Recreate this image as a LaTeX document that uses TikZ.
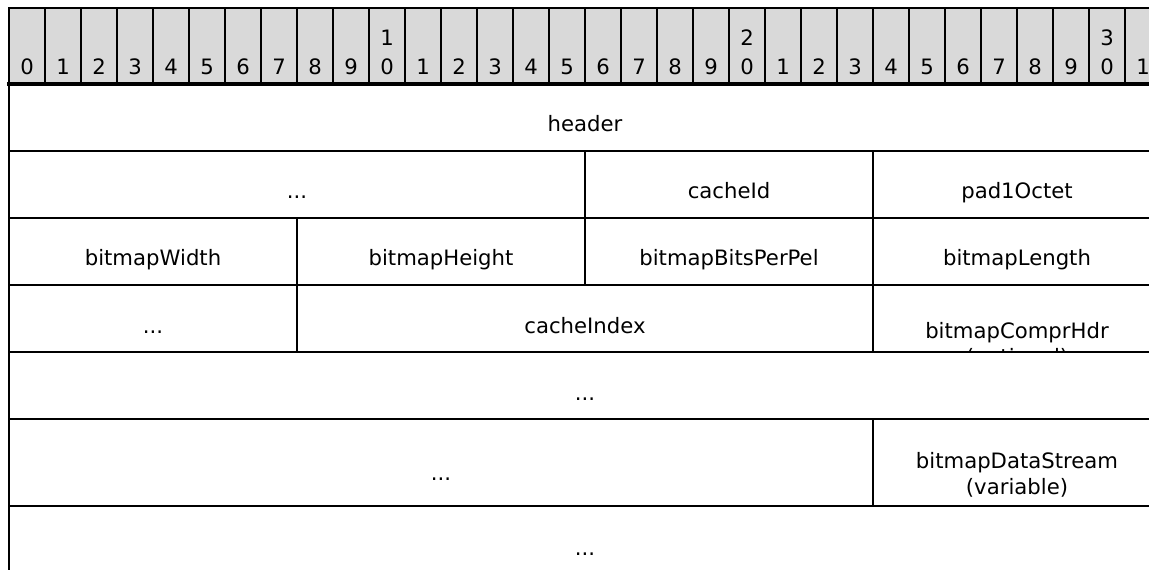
\documentclass[tikz,border=0pt]{standalone}
\usepackage{fontspec}
\setmainfont{DejaVu Sans}
\definecolor{bitgray}{HTML}{D9D9D9}
\begin{document}
\begin{tikzpicture}[x=0.75pt,y=-0.75pt,
  txt/.style={font=\fontsize{15.9}{18}\selectfont, anchor=base, inner sep=0pt, text=black},
  rule/.style={line width=1.8pt, line cap=rect},
  thickrule/.style={line width=2.4pt, line cap=rect}]
\useasboundingbox (0,0) rectangle (1149,570);
% bit number row
\fill[bitgray] (9,8) rectangle (1149,84);
\foreach \i in {1,...,31} \draw[rule] ({9+36*\i},8) -- ({9+36*\i},84);
\foreach \i in {0,...,31} {
  \pgfmathtruncatemacro{\d}{mod(\i,10)}
  \pgfmathtruncatemacro{\t}{\i/10}
  \node[txt] (b\i) at ({27+36*\i},75) {\d};
  \ifnum\d=0 \ifnum\i>0
    \node[txt] (bt\i) at ({27+36*\i},46) {\t};
  \fi\fi
}
% borders and row rules
\draw[rule] (9,8) -- (1149,8);
\draw[thickrule] (9,84) -- (1149,84);
\draw[rule] (9,8) -- (9,570);
\foreach \y in {151,218,285,352,419,506} \draw[rule] (9,\y) -- (1149,\y);
% cell dividers
\draw[rule] (585,151) -- (585,218);
\draw[rule] (873,151) -- (873,218);
\draw[rule] (297,218) -- (297,285);
\draw[rule] (585,218) -- (585,285);
\draw[rule] (873,218) -- (873,285);
\draw[rule] (297,285) -- (297,352);
\draw[rule] (873,285) -- (873,352);
\draw[rule] (873,419) -- (873,506);
% field texts
\node[txt] (header) at (585,132) {header};
\node[txt] (dotsA) at (297,199) {...};
\node[txt] (cacheId) at (729,199) {cacheId};
\node[txt] (pad) at (1017,199) {pad1Octet};
\node[txt] (bw) at (153,266) {bitmapWidth};
\node[txt] (bh) at (441,266) {bitmapHeight};
\node[txt] (bbpp) at (729,266) {bitmapBitsPerPel};
\node[txt] (bl) at (1017,266) {bitmapLength};
\node[txt] (dotsB) at (153,333) {...};
\node[txt] (cidx) at (585,333) {cacheIndex};
\begin{scope}
  \clip (874,286) rectangle (1149,350.8);
  \node[txt] (bch) at (1017,338) {bitmapComprHdr};
  \node[txt] (bcho) at (1017,364) {(optional)};
\end{scope}
\node[txt] (dotsC) at (585,400) {...};
\node[txt] (dotsD) at (441,480) {...};
\node[txt] (bds) at (1017,468) {bitmapDataStream};
\node[txt] (bdsv) at (1017,494) {(variable)};
\node[txt] (dotsE) at (585,555) {...};
\end{tikzpicture}
\end{document}
